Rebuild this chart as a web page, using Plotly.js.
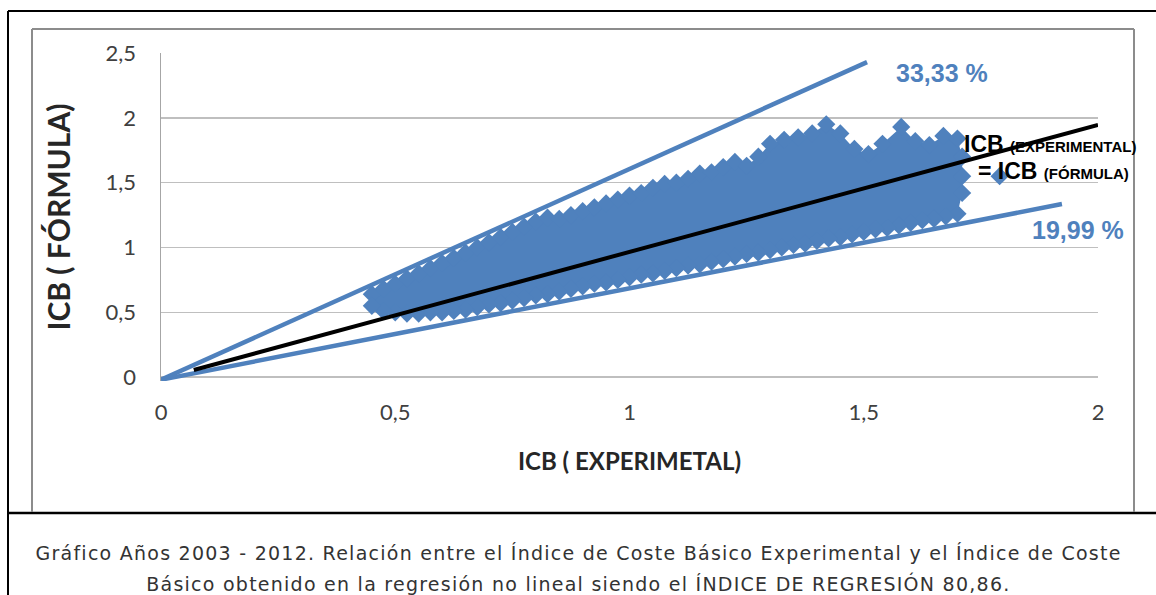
<!DOCTYPE html>
<html>
<head>
<meta charset="utf-8">
<script src="https://cdn.plot.ly/plotly-3.0.1.min.js"></script>
<style>
  html, body { margin: 0; padding: 0; background: #ffffff; }
  #chart { width: 1156px; height: 595px; }
  #chart g.annotation[data-index="4"] text,
  #chart g.annotation[data-index="5"] text { letter-spacing: 1.25px; }
</style>
</head>
<body>
<div id="chart"></div>
<script>
// ---- Data ----
// Upper edge of the scatter cloud (point centres)
var cloudTopX = [0.45,0.475,0.50,0.525,0.55,0.575,0.60,0.625,0.65,0.675,0.70,0.725,0.75,0.775,0.80,0.825,0.85,0.875,0.90,0.925,0.95,0.975,1.00,1.025,1.05,1.075,1.10,1.125,1.15,1.175,1.20,1.225,1.25,1.275,1.30,1.33,1.36,1.39,1.42,1.45,1.48,1.51,1.54,1.58,1.61,1.64,1.67,1.70];
var cloudTopY = [0.64,0.68,0.72,0.76,0.80,0.84,0.88,0.92,0.96,1.00,1.04,1.08,1.12,1.16,1.20,1.23,1.22,1.25,1.28,1.31,1.34,1.37,1.40,1.42,1.46,1.49,1.50,1.53,1.57,1.58,1.62,1.66,1.63,1.70,1.80,1.83,1.85,1.88,1.95,1.88,1.76,1.72,1.80,1.93,1.82,1.79,1.86,1.84];
// Right edge of the cloud
var cloudRightX = [1.71,1.71,1.71];
var cloudRightY = [1.70,1.55,1.42];
// Lower edge of the cloud (from right to left)
var cloudBotX = [1.70,1.675,1.65,1.625,1.60,1.575,1.55,1.525,1.50,1.475,1.45,1.425,1.40,1.375,1.35,1.325,1.30,1.275,1.25,1.225,1.20,1.175,1.15,1.125,1.10,1.075,1.05,1.025,1.00,0.975,0.95,0.925,0.90,0.875,0.85,0.825,0.80,0.775,0.75,0.725,0.70,0.675,0.65,0.625,0.60,0.575,0.55,0.525,0.50,0.475,0.45];
var cloudBotY = [1.26,1.24,1.22,1.21,1.19,1.17,1.15,1.14,1.12,1.10,1.08,1.07,1.05,1.03,1.02,1.00,0.98,0.96,0.95,0.93,0.91,0.89,0.87,0.86,0.84,0.82,0.80,0.79,0.77,0.75,0.73,0.72,0.70,0.68,0.66,0.64,0.63,0.61,0.59,0.57,0.56,0.54,0.52,0.51,0.50,0.50,0.49,0.49,0.50,0.51,0.55];
// Isolated point
var outlierX = [1.79];
var outlierY = [1.55];

// Reference lines
var upperX = [0, 1.507];
var upperY = [-0.02, 2.43];
var lowerX = [0, 1.923];
var lowerY = [-0.02, 1.335];
var identX = [0.07, 2.0];
var identY = [0.055, 1.945];

// Ticks
var xTickVals = [0, 0.5, 1, 1.5, 2];
var xTickText = ['0', '0,5', '1', '1,5', '2'];
var yTickVals = [0, 0.5, 1, 1.5, 2, 2.5];
var yTickText = ['0', '0,5', '1', '1,5', '2', '2,5'];

// Texts
var xTitle = 'ICB ( EXPERIMETAL)';
var yTitle = 'ICB ( FÓRMULA)';
var labelUpper = '33,33 %';
var labelLower = '19,99 %';
var caption1 = 'Gráfico Años 2003 - 2012. Relación entre el Índice de Coste Básico Experimental y el Índice de Coste';
var caption2 = 'Básico obtenido en la regresión no lineal siendo el ÍNDICE DE REGRESIÓN 80,86.';

// ---- Chart ----
var BLUE = '#4f81bd';

var polyX = cloudTopX.concat(cloudRightX, cloudBotX);
var polyY = cloudTopY.concat(cloudRightY, cloudBotY);

var traces = [
  { x: polyX, y: polyY, type: 'scatter', mode: 'lines', fill: 'toself',
    fillcolor: BLUE, line: { width: 0, color: BLUE }, hoverinfo: 'skip', showlegend: false },
  { x: polyX.concat(outlierX), y: polyY.concat(outlierY), type: 'scatter', mode: 'markers',
    marker: { symbol: 'diamond', size: 14, color: BLUE, line: { width: 0 } }, showlegend: false },
  { x: upperX, y: upperY, type: 'scatter', mode: 'lines', line: { color: BLUE, width: 4.5 }, showlegend: false },
  { x: lowerX, y: lowerY, type: 'scatter', mode: 'lines', line: { color: BLUE, width: 4.5 }, showlegend: false },
  { x: identX, y: identY, type: 'scatter', mode: 'lines', line: { color: '#000000', width: 4 }, showlegend: false }
];

// geometry of plot area in pixels (for frame shapes / caption)
var L = 161, R = 1098, T = 53, B = 381;
function px(x) { return (x - L) / (R - L); }
function py(y) { return (B - y) / (B - T); }

var shapes = [
  // outer black box
  { type: 'line', xref: 'paper', yref: 'paper', x0: px(8), x1: px(8), y0: py(11), y1: py(600), line: { color: '#000', width: 2 } },
  { type: 'line', xref: 'paper', yref: 'paper', x0: px(8), x1: px(1160), y0: py(11), y1: py(11), line: { color: '#000', width: 2 } },
  { type: 'line', xref: 'paper', yref: 'paper', x0: px(8), x1: px(1160), y0: py(513), y1: py(513), line: { color: '#000', width: 2.5 } },
  // gray chart frame
  { type: 'line', xref: 'paper', yref: 'paper', x0: px(32), x1: px(32), y0: py(29), y1: py(512), line: { color: '#8c8c8c', width: 2 } },
  { type: 'line', xref: 'paper', yref: 'paper', x0: px(32), x1: px(1134), y0: py(29), y1: py(29), line: { color: '#8c8c8c', width: 2 } },
  { type: 'line', xref: 'paper', yref: 'paper', x0: px(1134), x1: px(1134), y0: py(29), y1: py(512), line: { color: '#8c8c8c', width: 2 } }
];

var annotations = [
  { x: 1.666, y: 2.346, xref: 'x', yref: 'y', text: '<b>' + labelUpper + '</b>', showarrow: false,
    font: { family: 'Liberation Sans, Arial', size: 25, color: BLUE } },
  { x: 1.957, y: 1.135, xref: 'x', yref: 'y', text: '<b>' + labelLower + '</b>', showarrow: false,
    font: { family: 'Liberation Sans, Arial', size: 25, color: BLUE } },
  { x: 1.710, y: 1.80, xref: 'x', yref: 'y', xanchor: 'left', yanchor: 'middle', showarrow: false,
    text: '<b>ICB <span style="font-size:15px">(EXPERIMENTAL)</span></b>',
    font: { family: 'Liberation Sans, Arial', size: 23, color: '#000' } },
  { x: 1.740, y: 1.587, xref: 'x', yref: 'y', xanchor: 'left', yanchor: 'middle', showarrow: false,
    text: '<b>= ICB <span style="font-size:15px">(FÓRMULA)</span></b>',
    font: { family: 'Liberation Sans, Arial', size: 23, color: '#000' } },
  { x: px(578), y: py(553), xref: 'paper', yref: 'paper', xanchor: 'center', yanchor: 'middle', showarrow: false, text: caption1,
    font: { family: 'DejaVu Sans', size: 19, color: '#333333' } },
  { x: px(578), y: py(583), xref: 'paper', yref: 'paper', xanchor: 'center', yanchor: 'middle', showarrow: false, text: caption2,
    font: { family: 'DejaVu Sans', size: 19, color: '#333333' } }
];

var layout = {
  width: 1156, height: 595,
  margin: { l: L, r: 1156 - R, t: T, b: 595 - B, pad: 0 },
  paper_bgcolor: '#ffffff', plot_bgcolor: '#ffffff',
  separators: ', ',
  showlegend: false,
  xaxis: {
    range: [0, 2], tickvals: xTickVals, ticktext: xTickText,
    showgrid: false, zeroline: false, showline: false,
    ticks: 'outside', ticklen: 12, tickcolor: 'rgba(0,0,0,0)',
    tickfont: { family: 'Lato', size: 22, color: '#404040' },
    title: { text: '<b>' + xTitle + '</b>', font: { family: 'Lato', size: 24, color: '#262626' }, standoff: 28 }
  },
  yaxis: {
    range: [-0.03, 2.5], tickvals: yTickVals, ticktext: yTickText,
    showgrid: true, gridcolor: '#bfbfbf', gridwidth: 1.5, zeroline: false,
    showline: true, linecolor: '#a6a6a6', linewidth: 1.5,
    ticks: 'outside', ticklen: 19, tickcolor: 'rgba(0,0,0,0)',
    tickfont: { family: 'Lato', size: 22, color: '#404040' },
    title: { text: '<b>' + yTitle + '</b>', font: { family: 'Lato', size: 30, color: '#262626' }, standoff: 26 }
  },
  shapes: shapes,
  annotations: annotations
};

Plotly.newPlot('chart', traces, layout, { displayModeBar: false, staticPlot: true });
</script>
</body>
</html>
